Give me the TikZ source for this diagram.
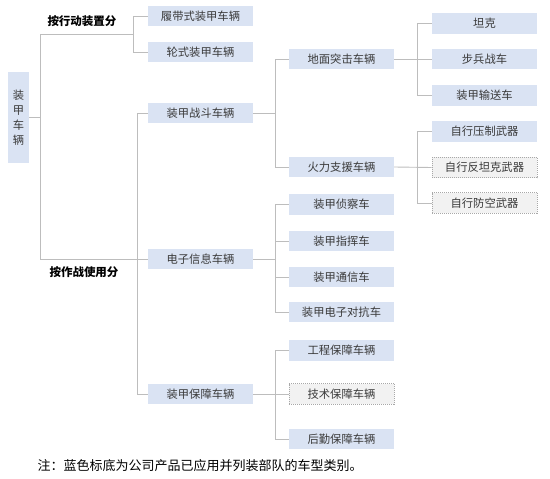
\documentclass[tikz,border=0pt]{standalone}
\usepackage{fontspec}
\setmainfont{Noto Sans CJK SC}
\newfontfamily\cjkbold{Noto Sans CJK SC}[BoldFont={* Bold}]
\begin{document}
\begin{tikzpicture}[x=1pt,y=-1pt,
  box/.style={fill=boxblue,text=txtgrey,minimum width=105pt,minimum height=20.5pt,inner sep=0pt,font=\fontsize{11.3}{13}\selectfont},
  dbox/.style={box,fill=dgrey,draw=dline,line width=0.6pt,dash pattern=on 1pt off 1pt},
  lab/.style={font=\fontsize{11.5}{13}\selectfont\bfseries,text=black},
  link/.style={draw=lgrey,line width=0.9pt}]
\definecolor{boxblue}{HTML}{DAE3F3}
\definecolor{txtgrey}{HTML}{3A3A3A}
\definecolor{dgrey}{HTML}{F2F2F2}
\definecolor{dline}{HTML}{A8A8A8}
\definecolor{lgrey}{HTML}{BDBDBD}
\useasboundingbox (0,0) rectangle (550,479);
% root
\node[box,minimum width=21pt,minimum height=91pt,align=center,font=\fontsize{11.3}{15}\selectfont] (root) at (18.5,117.5) {装\\甲\\车\\辆};
% level 1
\node[box] (crawl) at (200.5,16) {履带式装甲车辆};
\node[box] (wheel) at (200.5,52) {轮式装甲车辆};
\node[box] (combat) at (200.5,113) {装甲战斗车辆};
\node[box] (elec) at (200.5,259) {电子信息车辆};
\node[box] (supp) at (200.5,394) {装甲保障车辆};
% level 2
\node[box] (ground) at (341.5,59) {地面突击车辆};
\node[box] (fire) at (341.5,167) {火力支援车辆};
\node[box] (recon) at (341.5,204.5) {装甲侦察车};
\node[box] (cmd) at (341.5,241) {装甲指挥车};
\node[box] (comm) at (341.5,277) {装甲通信车};
\node[box] (ecm) at (341.5,312) {装甲电子对抗车};
\node[box] (eng) at (341.5,350.5) {工程保障车辆};
\node[dbox] (tech) at (341.5,394) {技术保障车辆};
\node[box] (logi) at (341.5,439) {后勤保障车辆};
% level 3
\node[box] (tank) at (484.5,23.5) {坦克};
\node[box] (ifv) at (484.5,59) {步兵战车};
\node[box] (apc) at (484.5,95.5) {装甲输送车};
\node[box] (spg) at (484.5,131.5) {自行压制武器};
\node[dbox] (spat) at (484.5,167.5) {自行反坦克武器};
\node[dbox] (spaa) at (484.5,203) {自行防空武器};
% labels
\node[lab] (l1) at (82,21.5) {按行动装置分};
\node[lab] (l2) at (84,272) {按作战使用分};
\node[font=\fontsize{13}{15}\selectfont,text=black,anchor=west] (note) at (34,465.5) {注：蓝色标底为公司产品已应用并列装部队的车型类别。};
% bracket x positions
\coordinate (tr) at (40,0);
\coordinate (b0) at (133,0);
\coordinate (b1) at (137,0);
\coordinate (b2) at (275,0);
\coordinate (b3) at (417,0);
\coordinate (m0) at (133,34);
% connectors
\draw[link] (root.east) -- (root.east -| tr);
\draw[link] (crawl.west) -- (crawl.west -| b0) |- (wheel.west);
\draw[link] (m0) -| (elec.west -| tr) -- (elec.west);
\draw[link] (combat.west) -- (combat.west -| b1) |- (supp.west);
\draw[link] (combat.east) -- (combat.east -| b2);
\draw[link] (ground.west) -- (ground.west -| b2) |- (fire.west);
\draw[link] (elec.east) -- (elec.east -| b2);
\draw[link] (recon.west) -- (recon.west -| b2) |- (ecm.west);
\draw[link] (cmd.west) -- (cmd.west -| b2);
\draw[link] (comm.west) -- (comm.west -| b2);
\draw[link] (supp.east) -- (tech.west);
\draw[link] (eng.west) -- (eng.west -| b2) |- (logi.west);
\draw[link] (ground.east) -- (ifv.west);
\draw[link] (tank.west) -- (tank.west -| b3) |- (apc.west);
\draw[link] (fire.east) -- (spat.west);
\draw[link] (spg.west) -- (spg.west -| b3) |- (spaa.west);
\end{tikzpicture}
\end{document}
